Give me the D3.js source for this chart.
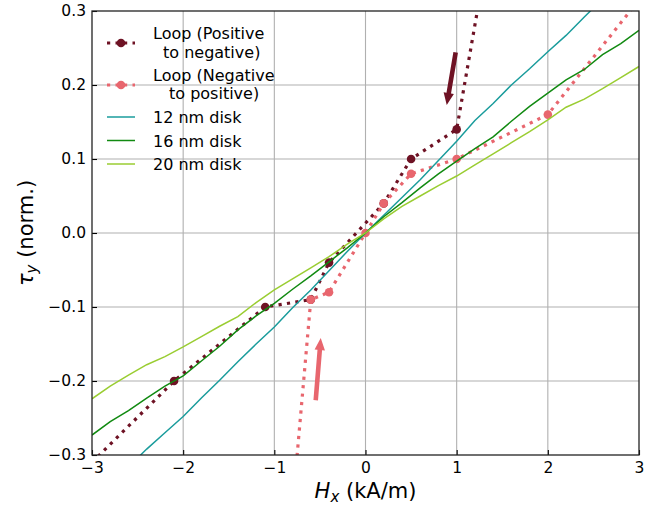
<!DOCTYPE html>
<html>
<head>
<meta charset="utf-8">
<script src="https://cdn.jsdelivr.net/npm/d3@7"></script>
<style>
  body { margin: 0; background: #fff; }
  svg text { font-family: "DejaVu Sans", sans-serif; fill: #000; }
</style>
</head>
<body>
<div id="chart"></div>
<script>
// loop measurements (field kA/m, torque normalised)
const loopPosX = [-3.0, -2.1, -1.1, -0.6, -0.4, 0.2, 0.5, 1.0, 2.0];
const loopPosY = [-0.31, -0.2, -0.1, -0.09, -0.04, 0.04, 0.1, 0.14, 0.845];
const loopNegX = [-0.8, -0.6, -0.4, 0.0, 0.2, 0.5, 1.0, 2.0, 3.0];
const loopNegY = [-0.37, -0.09, -0.08, 0.0, 0.04, 0.08, 0.1, 0.16, 0.315];

// simulated disks
const disk12X = [-2.6, -2.4, -2.2, -2.0, -1.8, -1.6, -1.4, -1.2, -1.0, -0.8, -0.6, -0.4, -0.2, 0,
  0.2, 0.4, 0.6, 0.8, 1.0, 1.2, 1.4, 1.6, 1.8, 2.0, 2.2, 2.4, 2.6];
const disk12Y = [-0.316, -0.292, -0.270, -0.248, -0.223, -0.199, -0.174, -0.150, -0.127, -0.101, -0.077, -0.051, -0.025, 0,
  0.024, 0.048, 0.072, 0.098, 0.124, 0.152, 0.175, 0.200, 0.222, 0.245, 0.267, 0.292, 0.316];
const diskX = [-3.0, -2.8, -2.6, -2.4, -2.2, -2.0, -1.8, -1.6, -1.4, -1.2, -1.0, -0.8, -0.6, -0.4, -0.2, 0,
  0.2, 0.4, 0.6, 0.8, 1.0, 1.2, 1.4, 1.6, 1.8, 2.0, 2.2, 2.4, 2.6, 2.8, 3.0];
const disk16Y = [-0.273, -0.255, -0.240, -0.223, -0.207, -0.193, -0.173, -0.153, -0.131, -0.112, -0.095, -0.076, -0.058, -0.039, -0.020, 0,
  0.022, 0.041, 0.061, 0.080, 0.097, 0.114, 0.130, 0.151, 0.171, 0.189, 0.207, 0.221, 0.241, 0.256, 0.274];
const disk20Y = [-0.224, -0.207, -0.192, -0.178, -0.167, -0.154, -0.140, -0.126, -0.113, -0.094, -0.077, -0.062, -0.047, -0.032, -0.015, 0,
  0.019, 0.036, 0.050, 0.064, 0.077, 0.092, 0.107, 0.122, 0.137, 0.153, 0.170, 0.181, 0.195, 0.210, 0.225];

const xTicks = [-3, -2, -1, 0, 1, 2, 3];
const yTicks = [-0.3, -0.2, -0.1, 0.0, 0.1, 0.2, 0.3];

// arrows: [x0, y0, x1, y1] in data units
const arrowPos = [0.989, 0.244, 0.891, 0.173];
const arrowNeg = [-0.546, -0.226, -0.491, -0.142];

const cDark = "#6e1224", cPink = "#e8666e", cTeal = "#1a9c9c", cGreen = "#118a11", cLight = "#9acd32";

const margin = { top: 11, right: 23, bottom: 51, left: 92 },
      W = 662, H = 506,
      width = W - margin.left - margin.right,
      height = H - margin.top - margin.bottom;

const svg = d3.select("#chart").append("svg")
  .attr("width", W).attr("height", H);

svg.append("defs").append("clipPath").attr("id", "clip")
  .append("rect").attr("width", width).attr("height", height);

const g = svg.append("g").attr("transform", `translate(${margin.left},${margin.top})`);

const x = d3.scaleLinear().domain([-3, 3]).range([0, width]);
const y = d3.scaleLinear().domain([-0.3, 0.3]).range([height, 0]);

// grid
g.append("g").selectAll("line").data(xTicks.slice(1, -1)).enter().append("line")
  .attr("x1", d => x(d)).attr("x2", d => x(d)).attr("y1", 0).attr("y2", height)
  .attr("stroke", "#b0b0b0").attr("stroke-width", 1.1);
g.append("g").selectAll("line").data(yTicks.slice(1, -1)).enter().append("line")
  .attr("y1", d => y(d)).attr("y2", d => y(d)).attr("x1", 0).attr("x2", width)
  .attr("stroke", "#b0b0b0").attr("stroke-width", 1.1);

const plot = g.append("g").attr("clip-path", "url(#clip)");
const line = d3.line().x(d => x(d[0])).y(d => y(d[1]));
const zip = (a, b) => a.map((v, i) => [v, b[i]]);

// loops
const loops = [
  { pts: zip(loopPosX, loopPosY), color: cDark },
  { pts: zip(loopNegX, loopNegY), color: cPink }
];
loops.forEach(l => {
  plot.append("path").attr("d", line(l.pts))
    .attr("fill", "none").attr("stroke", l.color).attr("stroke-width", 3.2)
    .attr("stroke-dasharray", "3.2,5.3");
  plot.selectAll(null).data(l.pts).enter().append("circle")
    .attr("cx", d => x(d[0])).attr("cy", d => y(d[1])).attr("r", 4.3)
    .attr("fill", l.color);
});

// disks
const disks = [
  { pts: zip(disk12X, disk12Y), color: cTeal },
  { pts: zip(diskX, disk16Y), color: cGreen },
  { pts: zip(diskX, disk20Y), color: cLight }
];
disks.forEach(dk => {
  plot.append("path").attr("d", line(dk.pts))
    .attr("fill", "none").attr("stroke", dk.color).attr("stroke-width", 1.5);
});

// arrows
function arrow(a, color) {
  const x0 = x(a[0]), y0 = y(a[1]), x1 = x(a[2]), y1 = y(a[3]);
  const len = Math.hypot(x1 - x0, y1 - y0);
  const ang = Math.atan2(y1 - y0, x1 - x0) * 180 / Math.PI;
  const hl = 12, hw = 5.2, sw = 2.3;
  const pts = [[0, -sw], [len - hl, -sw], [len - hl, -hw], [len, 0], [len - hl, hw], [len - hl, sw], [0, sw]];
  g.append("path")
    .attr("d", "M" + pts.map(p => p.join(",")).join("L") + "Z")
    .attr("transform", `translate(${x0},${y0}) rotate(${ang})`)
    .attr("fill", color);
}
arrow(arrowPos, cDark);
arrow(arrowNeg, cPink);

// axes (ticks inward)
const fmt = d3.format(".1f");
const gx = g.append("g").attr("transform", `translate(0,${height})`)
  .call(d3.axisBottom(x).tickValues(xTicks).tickSize(-5).tickPadding(7).tickFormat(d3.format("d")));
const gy = g.append("g")
  .call(d3.axisLeft(y).tickValues(yTicks).tickSize(-5).tickPadding(10).tickFormat(fmt));
[gx, gy].forEach(ax => {
  ax.select(".domain").remove();
  ax.selectAll("line").attr("stroke", "#000").attr("stroke-width", 1.1);
  ax.selectAll("text").style("font-size", "15.5px").attr("fill", "#000");
});
gy.selectAll("text").attr("x", -6);

// frame
g.append("rect").attr("width", width).attr("height", height)
  .attr("fill", "none").attr("stroke", "#222").attr("stroke-width", 1.3);

// axis labels
const xl = svg.append("text").attr("x", margin.left + width / 2).attr("y", 498)
  .attr("text-anchor", "middle").style("font-size", "21px");
xl.append("tspan").style("font-style", "italic").text("H");
xl.append("tspan").style("font-style", "italic").style("font-size", "15px").attr("dy", 4).text("x");
xl.append("tspan").attr("dy", -4).text(" (kA/m)");

const yl = svg.append("text").attr("transform", `translate(33,${margin.top + height / 2}) rotate(-90)`)
  .attr("text-anchor", "middle").style("font-size", "21px");
yl.append("tspan").style("font-style", "italic").text("τ");
yl.append("tspan").style("font-style", "italic").style("font-size", "15px").attr("dy", 4).text("y");
yl.append("tspan").attr("dy", -4).text(" (norm.)");

// legend (no frame)
const legend = [
  { lines: ["Loop (Positive", "to negative)"], color: cDark, loop: true, y: 43, base: [39, 58], dx2: 10 },
  { lines: ["Loop (Negative", "to positive)"], color: cPink, loop: true, y: 85, base: [81, 99], dx2: 16 },
  { lines: ["12 nm disk"], color: cTeal, y: 117, base: [123] },
  { lines: ["16 nm disk"], color: cGreen, y: 140.5, base: [146.5] },
  { lines: ["20 nm disk"], color: cLight, y: 164, base: [170] }
];
const lg = svg.append("g");
legend.forEach(e => {
  lg.append("line").attr("x1", 107).attr("x2", 135).attr("y1", e.y).attr("y2", e.y)
    .attr("stroke", e.color)
    .attr("stroke-width", e.loop ? 3.2 : 1.5)
    .attr("stroke-dasharray", e.loop ? "3.2,5.3" : null);
  if (e.loop) lg.append("circle").attr("cx", 121).attr("cy", e.y).attr("r", 4.3).attr("fill", e.color);
  e.lines.forEach((t, i) => {
    lg.append("text").attr("x", 153 + (i ? e.dx2 : 0)).attr("y", e.base[i])
      .style("font-size", "16px").text(t);
  });
});
</script>
</body>
</html>
